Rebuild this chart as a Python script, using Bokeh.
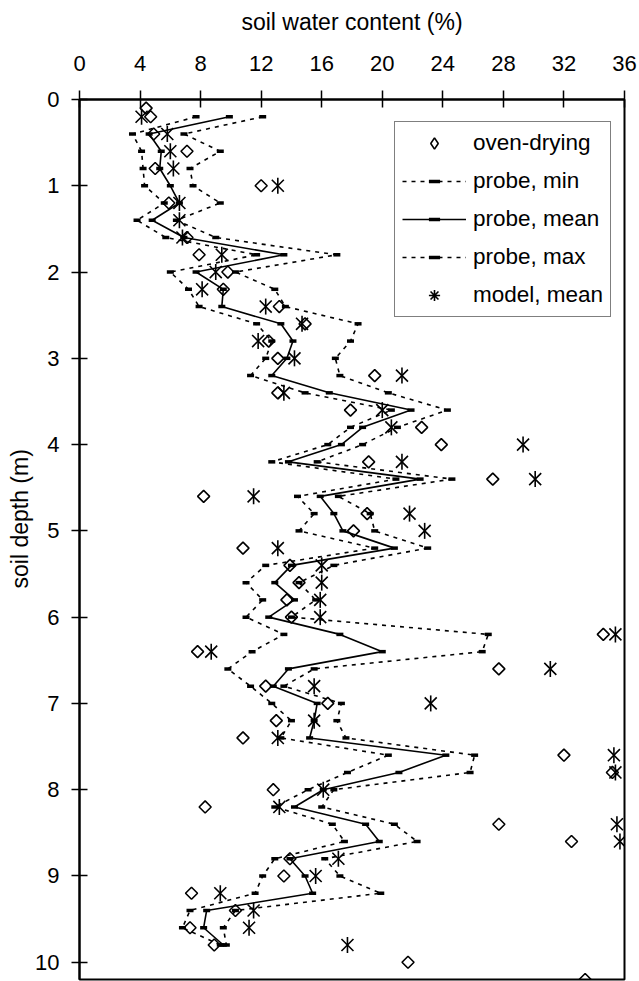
from bokeh.plotting import figure
from bokeh.models import Range1d, FixedTicker, Legend, LegendItem, ColumnDataSource, Title
from bokeh.embed import file_html
from bokeh.resources import INLINE
import math

# ---------------- data ----------------
x_ticks = [0, 4, 8, 12, 16, 20, 24, 28, 32, 36]
y_ticks = [0, 1, 2, 3, 4, 5, 6, 7, 8, 9, 10]

depth_probe = [0.2, 0.4, 0.6, 0.8, 1.0, 1.2, 1.4, 1.6, 1.8, 2.0,
               2.2, 2.4, 2.6, 2.8, 3.0, 3.2, 3.4, 3.6, 3.8, 4.0,
               4.2, 4.4, 4.6, 4.8, 5.0, 5.2, 5.4, 5.6, 5.8, 6.0,
               6.2, 6.4, 6.6, 6.8, 7.0, 7.2, 7.4, 7.6, 7.8, 8.0,
               8.2, 8.4, 8.6, 8.8, 9.0, 9.2, 9.4, 9.6, 9.8]

probe_min = [7.7, 3.5, 4.1, 4.2, 4.3, 5.6, 3.8, 5.7, 11.7, 6.0,
             7.2, 7.9, 11.7, 12.7, 12.3, 11.3, 14.9, 20.6, 17.9, 16.4,
             12.7, 20.9, 14.4, 15.5, 14.5, 19.5, 12.3, 11.0, 12.1, 11.0,
             13.5, 11.4, 9.8, 11.3, 12.7, 14.0, 13.3, 20.4, 17.7, 15.1,
             12.9, 16.7, 17.5, 12.9, 12.1, 11.6, 7.3, 6.8, 9.3]

probe_mean = [9.9, 4.6, 5.4, 5.3, 6.0, 6.6, 4.8, 6.9, 13.5, 7.7,
              9.5, 9.4, 13.3, 14.1, 13.7, 12.7, 16.5, 21.9, 18.7, 17.3,
              13.8, 22.5, 15.9, 16.8, 17.4, 20.8, 14.0, 12.9, 14.2, 12.5,
              17.2, 20.0, 13.8, 12.8, 15.7, 15.5, 15.2, 24.2, 21.1, 16.1,
              14.2, 18.9, 19.8, 13.9, 14.9, 15.4, 8.4, 8.2, 9.5]

probe_max = [12.1, 6.9, 9.3, 7.3, 7.5, 9.3, 6.4, 9.0, 17.0, 10.3,
             12.9, 13.6, 18.4, 17.9, 16.9, 17.2, 20.4, 24.3, 21.0, 18.7,
             15.7, 24.6, 17.1, 19.2, 19.5, 23.0, 16.8, 14.5, 15.6, 14.0,
             27.0, 26.6, 15.5, 13.5, 17.3, 17.0, 17.6, 26.1, 25.8, 16.8,
             16.0, 20.8, 22.3, 16.2, 17.2, 19.9, 10.3, 9.5, 9.7]

model_mean = [4.1, 5.8, 6.0, 6.2, 13.1, 6.6, 6.6, 6.8, 9.4, 9.0,
              8.1, 12.3, 14.7, 11.8, 14.2, 21.3, 13.5, 20.0, 20.6, 29.3,
              21.3, 30.1, 11.5, 21.8, 22.8, 13.1, 16.0, 16.0, 15.9, 15.9,
              35.4, 8.7, 31.1, 15.5, 23.2, 15.5, 13.1, 35.3, 35.4, 16.1,
              13.2, 35.5, 35.7, 17.1, 15.6, 9.3, 11.5, 11.2, 17.7]

depth_oven = [0.1, 0.2, 0.4, 0.6, 0.8, 1.0, 1.2, 1.6, 1.8, 2.0,
              2.2, 2.4, 2.6, 2.8, 3.0, 3.2, 3.4, 3.6, 3.8, 4.0,
              4.2, 4.4, 4.6, 4.8, 5.0, 5.2, 5.4, 5.6, 5.8, 6.0,
              6.2, 6.4, 6.6, 6.8, 7.0, 7.2, 7.4, 7.6, 7.8, 8.0,
              8.2, 8.4, 8.6, 8.8, 9.0, 9.2, 9.4, 9.6, 9.8, 10.0, 10.2]

oven_drying = [4.4, 4.7, 4.9, 7.1, 5.0, 12.0, 5.9, 7.1, 7.9, 9.8,
               9.5, 13.2, 14.9, 12.5, 13.1, 19.5, 13.1, 17.9, 22.6, 23.9,
               19.1, 27.3, 8.2, 19.0, 18.1, 10.8, 13.9, 14.5, 13.7, 14.0,
               34.6, 7.8, 27.7, 12.3, 16.4, 13.0, 10.8, 32.0, 35.2, 12.8,
               8.3, 27.7, 32.5, 13.9, 13.5, 7.4, 10.3, 7.3, 8.9, 21.7, 33.4]

# ---------------- figure ----------------
FONT = "Liberation Sans"

p = figure(width=639, height=981, output_backend="svg", toolbar_location=None,
           x_range=Range1d(0, 36), y_range=Range1d(10.2, 0),
           x_axis_location="above",
           min_border_left=79, min_border_top=99, min_border_right=15, min_border_bottom=2)

p.xgrid.visible = False
p.ygrid.visible = False
p.outline_line_color = "black"
p.outline_line_width = 2
p.outline_line_alpha = 1.0
p.background_fill_color = "white"
p.border_fill_color = "white"

for ax, ticks in ((p.xaxis[0], x_ticks), (p.yaxis[0], y_ticks)):
    ax.ticker = FixedTicker(ticks=ticks)
    ax.minor_tick_line_color = None
    ax.major_tick_out = 9
    ax.major_tick_in = 8
    ax.major_tick_line_width = 1.5
    ax.major_tick_line_color = "black"
    ax.axis_line_width = 2
    ax.axis_line_color = "black"
    ax.major_label_text_font = FONT
    ax.major_label_text_font_size = "22px"
    ax.major_label_text_color = "black"
    ax.axis_label_text_font = FONT
    ax.axis_label_text_font_size = "23px"
    ax.axis_label_text_font_style = "normal"
    ax.axis_label_text_color = "black"

p.xaxis[0].axis_label = "soil water content (%)"
p.xaxis[0].major_label_standoff = 20
p.xaxis[0].axis_label_standoff = 18
p.yaxis[0].major_tick_out = 8
p.yaxis[0].major_label_standoff = 12

# y-axis title placed as a side title so it can sit slightly above the frame centre
ytitle = Title(text="soil depth (m)", align="left", offset=391, standoff=0,
               text_font=FONT, text_font_size="23px", text_font_style="normal",
               text_color="black")
p.add_layout(ytitle, "left")

src_p = ColumnDataSource(dict(d=depth_probe, mn=probe_min, me=probe_mean,
                              mx=probe_max, mo=model_mean))
src_o = ColumnDataSource(dict(d=depth_oven, ov=oven_drying))
src_proxy = ColumnDataSource(dict(x=[float("nan")], y=[float("nan")]))

r_min_l = p.line("mn", "d", source=src_p, line_color="black", line_width=1.6, line_dash="4 5")
r_min_m = p.scatter("mn", "d", source=src_p, marker="dash", size=7, line_width=3.5, line_color="black")
r_mean_l = p.line("me", "d", source=src_p, line_color="black", line_width=1.6)
r_mean_m = p.scatter("me", "d", source=src_p, marker="dash", size=7, line_width=3.5, line_color="black")
r_max_l = p.line("mx", "d", source=src_p, line_color="black", line_width=1.6, line_dash="4 5")
r_max_m = p.scatter("mx", "d", source=src_p, marker="dash", size=7, line_width=3.5, line_color="black")

r_oven = p.scatter("ov", "d", source=src_o, marker="square", angle=math.pi / 4, size=8.5,
                   line_color="black", line_width=1.6, fill_color=None)

r_mod_x = p.scatter("mo", "d", source=src_p, marker="x", size=17, line_color="black", line_width=1.6)
r_mod_v = p.scatter("mo", "d", source=src_p, marker="dash", angle=math.pi / 2, size=16,
                    line_color="black", line_width=1.6)

# legend-only glyph proxies (a single NaN point: nothing drawn in the plot)
leg_oven = p.scatter("x", "y", source=src_proxy, marker="diamond", line_color="black",
                     line_width=1.6, fill_color=None)
leg_model = p.scatter("x", "y", source=src_proxy, marker="asterisk", line_color="black",
                      line_width=1.6)

legend = Legend(items=[
    LegendItem(label="oven-drying", renderers=[leg_oven]),
    LegendItem(label="probe, min", renderers=[r_min_l, r_min_m]),
    LegendItem(label="probe, mean", renderers=[r_mean_l, r_mean_m]),
    LegendItem(label="probe, max", renderers=[r_max_l, r_max_m]),
    LegendItem(label="model, mean", renderers=[leg_model]),
], location=(315, 662))
legend.label_text_font = FONT
legend.label_text_font_size = "22.5px"
legend.label_text_color = "black"
legend.label_height = 28
legend.glyph_height = 28
legend.glyph_width = 64
legend.label_standoff = 7
legend.spacing = 10
legend.padding = 7
legend.margin = 0
legend.border_line_color = "black"
legend.border_line_width = 1.5
legend.background_fill_color = "white"
legend.background_fill_alpha = 1.0
p.add_layout(legend)

open("out.html", "w").write(file_html(p, INLINE))
